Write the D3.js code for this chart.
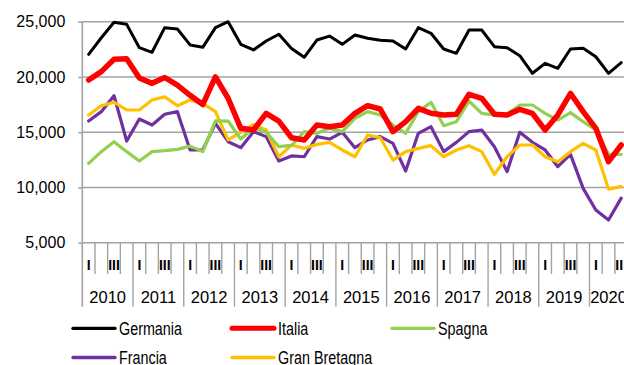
<!DOCTYPE html>
<html>
<head>
<meta charset="utf-8">
<script src="https://cdn.jsdelivr.net/npm/d3@7"></script>
<style>
  html, body { margin: 0; padding: 0; background: #fff; }
  svg { display: block; }
  .tick-label { font-family: "Liberation Sans", Arial, sans-serif; fill: #000; }
  .q-label { font-family: "Liberation Sans", Arial, sans-serif; fill: #000; font-weight: bold; }
  .legend-text { font-family: "Liberation Sans", Arial, sans-serif; fill: #000; }
</style>
</head>
<body>
<svg id="chart" width="624" height="365"></svg>
<script>
// Quarterly series, 2010 Q1 – 2020 Q3
const years = ["2010","2011","2012","2013","2014","2015","2016","2017","2018","2019","2020"];
const quarterLabels = ["I", "", "III", ""];
const yTicks = [5000, 10000, 15000, 20000, 25000];

const germania = [22050,23550,24950,24760,22650,22230,24460,24340,22900,22680,24460,25000,22950,22440,23250,23860,22580,21780,23340,23700,22950,23800,23500,23320,23260,22530,24460,23950,22530,22140,24250,24250,22740,22650,21920,20330,21230,20780,22530,22590,21830,20330,21290];
const italia = [19720,20480,21600,21650,19900,19420,19950,19270,18340,17500,20000,18070,15350,15200,16710,16010,14500,14300,15650,15500,15650,16710,17400,17100,15050,15950,17160,16710,16560,16620,18430,18070,16620,16560,17070,16710,15200,16560,18520,16860,15350,12330,13840];
const spagna = [12180,13240,14140,13240,12400,13240,13330,13450,13740,13240,16020,16010,14380,15410,14990,13690,13800,15050,14900,15350,15050,16260,16860,16560,15650,14900,16860,17710,15590,15950,17820,16710,16560,16620,17460,17460,16710,16100,16770,15950,15200,13000,13000];
const francia = [16010,16860,18300,14200,16190,15650,16620,16860,13390,13390,15800,14140,13600,15050,14600,12400,12850,12780,14600,14380,14990,13600,14300,14600,13990,11480,14900,15500,13240,14080,15050,15200,13690,11430,14990,14080,13390,11880,12990,9920,7960,7050,9030];
const granBretagna = [16560,17400,17710,17010,17010,17910,18200,17400,17910,17610,16860,14300,14990,15710,15200,12780,13840,13540,13900,14080,13390,12780,14750,14500,12480,13240,13540,13780,12780,13390,13780,13240,11190,12780,13840,13840,12780,12330,13240,13990,13390,9850,10070];

const series = [
  { name: "Germania", values: germania, color: "#000000", width: 3 },
  { name: "Italia", values: italia, color: "#ff0000", width: 5.5 },
  { name: "Spagna", values: spagna, color: "#92d050", width: 3.2 },
  { name: "Francia", values: francia, color: "#7030a0", width: 3.2 },
  { name: "Gran Bretagna", values: granBretagna, color: "#ffc000", width: 3.2 }
];
// draw order: lower lines first, Germania & Italia on top
const drawOrder = ["Francia", "Gran Bretagna", "Spagna", "Italia", "Germania"];

const svg = d3.select("#chart");
const W = 624;
const nQuarters = germania.length;

const x = d3.scaleLinear().domain([0, nQuarters]).range([82.3, 82.3 + nQuarters * 12.68]);
const y = d3.scaleLinear().domain([5000, 25000]).range([242.7, 21.7]);

const gridColor = "#a3a3a3";

// horizontal gridlines
svg.append("g").selectAll("line").data(yTicks).join("line")
  .attr("x1", x(0)).attr("x2", W)
  .attr("y1", d => y(d)).attr("y2", d => y(d))
  .attr("stroke", gridColor).attr("stroke-width", 1.6);

// y axis labels and outward ticks
const yAxis = d3.axisLeft(y).tickValues(yTicks).tickFormat(d3.format(",")).tickSize(4).tickPadding(13).tickSizeOuter(0);
const gy = svg.append("g").attr("transform", `translate(${x(0)},0)`).call(yAxis);
gy.select(".domain").remove();
gy.selectAll(".tick line").attr("stroke", gridColor).attr("stroke-width", 1.6);
gy.selectAll(".tick text").attr("class", "tick-label").style("font-size", "16px")
  .style("font-family", "'Liberation Sans', Arial, sans-serif").attr("fill", "#000");

// vertical axis line extends through the category area
const yBottom = 306.7;
svg.append("line").attr("x1", x(0)).attr("x2", x(0)).attr("y1", y(25000)).attr("y2", yBottom)
  .attr("stroke", gridColor).attr("stroke-width", 1.6);

// category axis: quarter ticks, year separators
const cat = svg.append("g");
d3.range(1, nQuarters + 1).forEach(i => {
  const isYear = i % 4 === 0 || i === nQuarters;
  cat.append("line")
    .attr("x1", x(i)).attr("x2", x(i))
    .attr("y1", y(5000)).attr("y2", isYear ? yBottom : 274)
    .attr("stroke", gridColor).attr("stroke-width", 1.4);
});
d3.range(nQuarters).forEach(i => {
  const lbl = quarterLabels[i % 4];
  if (!lbl) return;
  cat.append("text").attr("class", "q-label")
    .attr("x", x(i + 0.5)).attr("y", 269.7)
    .attr("text-anchor", "middle").style("font-size", "14px").text(lbl);
});
years.forEach((yr, k) => {
  const start = k * 4;
  const end = Math.min(start + 4, nQuarters);
  cat.append("text").attr("class", "tick-label")
    .attr("x", x((start + end) / 2)).attr("y", 302.5)
    .attr("text-anchor", "middle").style("font-size", "16.5px").text(yr);
});

// series lines
const line = d3.line().x((d, i) => x(i + 0.5)).y(d => y(d));
const lines = svg.append("g");
drawOrder.forEach(n => {
  const s = series.find(t => t.name === n);
  lines.append("path").datum(s.values)
    .attr("d", line).attr("fill", "none")
    .attr("stroke", s.color).attr("stroke-width", s.width)
    .attr("stroke-linejoin", "round").attr("stroke-linecap", "round");
});

// legend (condensed lettering)
const legendPos = [
  { x: 73, y: 328.3 }, { x: 232, y: 328.3 }, { x: 392, y: 328.3 },
  { x: 73, y: 357.5 }, { x: 232, y: 357.5 }
];
const lg = svg.append("g");
series.forEach((s, i) => {
  const p = legendPos[i];
  lg.append("line").attr("x1", p.x).attr("x2", p.x + 42).attr("y1", p.y).attr("y2", p.y)
    .attr("stroke", s.color).attr("stroke-width", s.name === "Italia" ? 5 : 3.3)
    .attr("stroke-linecap", "round");
  lg.append("text").attr("class", "legend-text")
    .attr("transform", `translate(${p.x + 46},${p.y + 6.2}) scale(0.82,1)`)
    .style("font-size", "17.5px").text(s.name);
});
</script>
</body>
</html>
